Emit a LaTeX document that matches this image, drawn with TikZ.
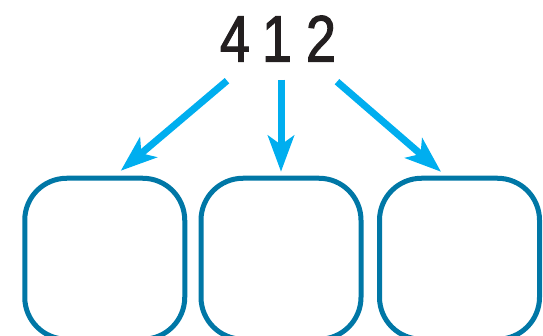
\documentclass[tikz,border=0pt]{standalone}
\usepackage{fontspec}
\setmainfont{Liberation Sans}
\newfontfamily\digitfont{Liberation Sans}[FakeStretch=0.82,FakeBold=1.6]
\usetikzlibrary{arrows.meta,calc}
\definecolor{BoxBlue}{HTML}{0077A6}
\definecolor{ArrowCyan}{HTML}{00AEEF}
\definecolor{DigitInk}{HTML}{231F20}

\begin{document}
\begin{tikzpicture}[x=1pt,y=-1pt,>={Stealth[length=36pt,width=26pt,inset=9pt]},
  digit/.style={font=\digitfont\fontsize{66}{66}\selectfont,text=DigitInk,anchor=base,inner sep=0pt},
  place/.style={draw=BoxBlue,line width=5pt,rounded corners=42pt,minimum width=160pt,minimum height=161pt},
  link/.style={->,ArrowCyan,line width=7pt}]
\useasboundingbox(0,0)rectangle(543,336);
% the number
\foreach \n/\x/\d in {d4/235/4,d1/277/1,d2/321/2}{\node[digit](\n)at(\x,61.7){\d};}
% the three empty places
\foreach \n/\x in {b1/104.75,b2/281,b3/459.5}{\node[place](\n)at(\x,258.75){};}
% arrows from the digits down to the places
\draw[link]($(d4.base)+(-8,19)$)--($(b1.north)+(16,-5)$);
\draw[link]($(d1.base)+(4,18)$)--($(b2.north)+(0,-4)$);
\draw[link]($(d2.base)+(16,20)$)--($(b3.north)+(-18.5,-4)$);
\end{tikzpicture}
\end{document}
